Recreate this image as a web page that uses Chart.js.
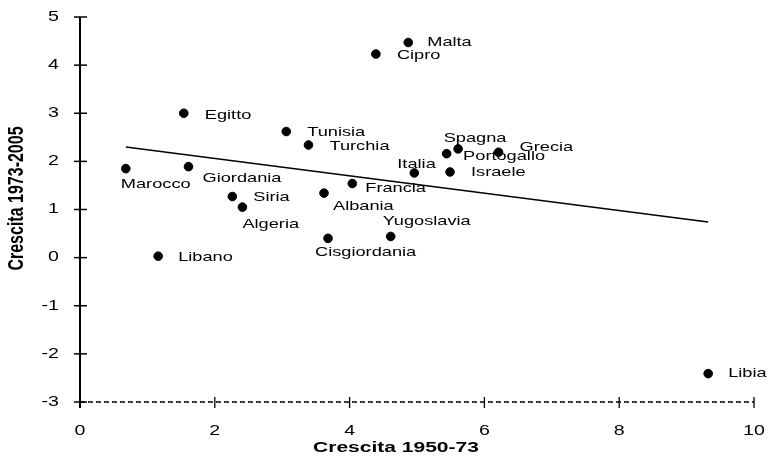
<!DOCTYPE html>
<html lang="it">
<head>
<meta charset="UTF-8">
<title>Crescita 1950-73 vs 1973-2005</title>
<script src="https://cdn.jsdelivr.net/npm/chart.js"></script>
<style>
  html, body { margin: 0; padding: 0; background: #fff; }
  canvas { display: block; }
</style>
</head>
<body>
<canvas id="scatter" width="768" height="459"></canvas>
<script>
// Dati: crescita media annua (%) per paese
const paesi = ['Marocco', 'Giordania', 'Egitto', 'Siria', 'Algeria', 'Libano', 'Tunisia', 'Turchia',
  'Albania', 'Francia', 'Cisgiordania', 'Cipro', 'Yugoslavia', 'Malta', 'Italia', 'Spagna',
  'Israele', 'Portogallo', 'Grecia', 'Libia'];
const crescita5073 = [0.68, 1.61, 1.54, 2.26, 2.41, 1.16, 3.06, 3.39,
  3.62, 4.04, 3.68, 4.39, 4.61, 4.87, 4.96, 5.44,
  5.49, 5.61, 6.21, 9.32];
const crescita7305 = [1.85, 1.89, 3.00, 1.27, 1.05, 0.03, 2.62, 2.34,
  1.34, 1.54, 0.40, 4.23, 0.44, 4.47, 1.76, 2.16,
  1.78, 2.26, 2.19, -2.41];

// retta di tendenza (estremi)
const trendX = [0.68, 9.32];
const trendY = [2.30, 0.74];

const xTicks = [0, 2, 4, 6, 8, 10];
const yTicks = [5, 4, 3, 2, 1, 0, -1, -2, -3];
const xTitle = 'Crescita 1950-73';
const yTitle = 'Crescita 1973-2005';

// spostamento delle etichette rispetto al punto [dx, dy]
const labelShift = [[-5, 16], [14, 12], [21, 2], [21, 1], [0, 17], [20, 1], [21, 1], [21, 1],
  [9, 13], [13, 5], [-13, 14], [21, 1], [-8, -15], [19, 0], [-17, -9], [-3, -15],
  [21, 0], [5, 8], [21, -5], [20, 0]];

const FONT = '"Liberation Sans", Arial, sans-serif';
const SX = 1.4; // il grafico originale e' allargato in orizzontale

function stretchedText(ctx, text, x, y, font, align) {
  ctx.save();
  ctx.font = font;
  ctx.fillStyle = '#000';
  ctx.textAlign = align;
  ctx.textBaseline = 'middle';
  ctx.translate(x, y);
  ctx.scale(SX, 1);
  ctx.fillText(text, 0, 0);
  ctx.restore();
}

const axesPlugin = {
  id: 'assi',
  beforeDatasetsDraw(chart) {
    const ctx = chart.ctx;
    const xs = chart.scales.x, ys = chart.scales.y;
    const a = chart.chartArea;
    ctx.save();
    ctx.strokeStyle = '#000';

    // asse y (continuo)
    ctx.lineWidth = 2;
    ctx.beginPath();
    ctx.moveTo(a.left, a.top);
    ctx.lineTo(a.left, a.bottom + 6);
    ctx.stroke();
    ctx.lineWidth = 1.5;
    yTicks.forEach(v => {
      const py = ys.getPixelForValue(v);
      ctx.beginPath();
      ctx.moveTo(a.left - 6, py);
      ctx.lineTo(a.left + 7, py);
      ctx.stroke();
      stretchedText(ctx, String(v), a.left - 21, py, '14px ' + FONT, 'right');
    });

    // asse x (tratteggiato)
    ctx.lineWidth = 1.3;
    ctx.setLineDash([5, 3]);
    ctx.beginPath();
    ctx.moveTo(a.left, a.bottom);
    ctx.lineTo(a.right, a.bottom);
    ctx.stroke();
    ctx.setLineDash([]);
    xTicks.forEach(v => {
      const px = xs.getPixelForValue(v);
      ctx.beginPath();
      ctx.moveTo(px, a.bottom - 5);
      ctx.lineTo(px, a.bottom + 6);
      ctx.stroke();
      stretchedText(ctx, String(v), px, a.bottom + 29, '14px ' + FONT, 'center');
    });

    // titoli assi
    stretchedText(ctx, xTitle, (a.left + a.right) / 2 - 21, a.bottom + 46, 'bold 15px ' + FONT, 'center');
    ctx.save();
    ctx.translate(17, (a.top + a.bottom) / 2 - 11);
    ctx.rotate(-Math.PI / 2);
    ctx.font = 'bold 16px ' + FONT;
    ctx.fillStyle = '#000';
    ctx.textAlign = 'center';
    ctx.textBaseline = 'middle';
    ctx.scale(1, SX);
    ctx.fillText(yTitle, 0, 0);
    ctx.restore();

    ctx.restore();
  },
  afterDatasetsDraw(chart) {
    const ctx = chart.ctx;
    const meta = chart.getDatasetMeta(0);
    meta.data.forEach((pt, i) => {
      const [dx, dy] = labelShift[i];
      stretchedText(ctx, paesi[i], pt.x + dx, pt.y + dy, '13px ' + FONT, 'left');
    });
  }
};

const ctx = document.getElementById('scatter').getContext('2d');
new Chart(ctx, {
  type: 'scatter',
  data: {
    datasets: [{
      label: 'Paesi',
      data: paesi.map((p, i) => ({ x: crescita5073[i], y: crescita7305[i] })),
      backgroundColor: '#000',
      borderColor: '#000',
      pointRadius: 4.3,
      pointHoverRadius: 4.3
    }, {
      type: 'line',
      label: 'Tendenza',
      data: trendX.map((x, i) => ({ x: x, y: trendY[i] })),
      borderColor: '#000',
      borderWidth: 1.5,
      pointRadius: 0,
      fill: false
    }]
  },
  options: {
    responsive: false,
    animation: false,
    layout: { padding: { left: 80, right: 14, top: 17, bottom: 57 } },
    scales: {
      x: { type: 'linear', min: 0, max: 10, display: false },
      y: { type: 'linear', min: -3, max: 5, display: false }
    },
    plugins: {
      legend: { display: false },
      tooltip: { enabled: false }
    }
  },
  plugins: [axesPlugin]
});
</script>
</body>
</html>
